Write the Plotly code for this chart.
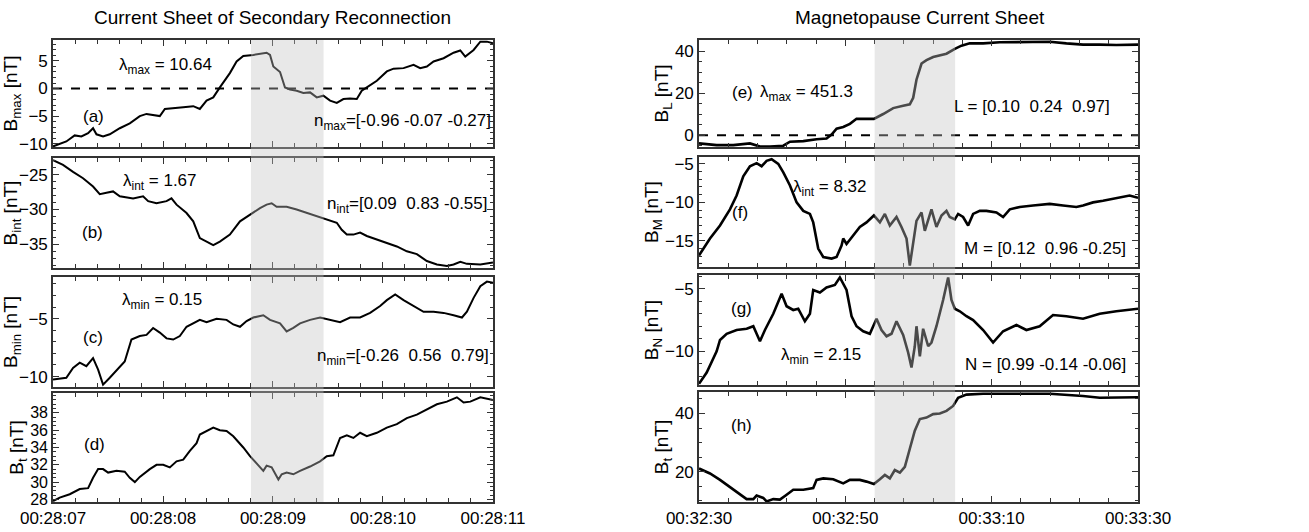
import plotly.graph_objects as go

# ---------------- data: left column (seconds after 00:28:07) ----------------
t_a = [0, .121, .197, .258, .319, .364, .395, .455, .516, .607, .698, .789, .85, .941, .971, 1.017, 1.093, 1.184,
       1.275, 1.335, 1.396, 1.457, 1.517, 1.608, 1.669, 1.73, 1.821, 1.912, 1.942, 1.973, 2.003, 2.064, 2.109, 2.155,
       2.215, 2.276, 2.337, 2.398, 2.458, 2.519, 2.58, 2.64, 2.701, 2.762, 2.807, 2.853, 2.944, 3.035, 3.096, 3.187,
       3.278, 3.338, 3.399, 3.46, 3.551, 3.642, 3.703, 3.748, 3.824, 3.885, 3.945, 4.0]
B_max = [-10.5, -9.6, -8.5, -8.7, -8.1, -7.2, -8.3, -8.7, -8.3, -7.2, -6.3, -5.0, -4.6, -5.0, -5.0, -3.7, -3.6, -3.4,
         -3.2, -3.7, -2.2, -1.6, 0.2, 2.8, 4.9, 5.9, 6.1, 6.3, 6.5, 6.1, 4.0, 3.0, 0.2, -0.2, -0.4, -0.8, -0.7, -1.6,
         -1.3, -2.2, -2.6, -1.9, -1.8, -1.9, -0.4, 0.2, 1.4, 3.1, 3.6, 3.7, 4.3, 3.7, 4.0, 4.9, 5.5, 6.5, 6.9, 5.8,
         7.0, 8.5, 8.5, 8.2]

t_b = [0, .091, .182, .273, .364, .425, .486, .546, .607, .728, .819, .865, .941, 1.032, 1.077, 1.123, 1.214, 1.275,
       1.335, 1.396, 1.457, 1.517, 1.608, 1.7, 1.791, 1.882, 1.942, 1.988, 2.033, 2.124, 2.215, 2.307, 2.398, 2.489,
       2.58, 2.625, 2.671, 2.731, 2.792, 2.853, 2.944, 3.035, 3.126, 3.217, 3.308, 3.399, 3.49, 3.581, 3.642, 3.703,
       3.763, 3.885, 4.0]
B_int = [-22.9, -23.6, -24.6, -25.5, -26.7, -27.8, -27.6, -27.4, -28.1, -28.4, -28.1, -28.8, -29.1, -28.8, -28.4,
         -29.3, -30.5, -31.7, -34.1, -34.6, -35.1, -34.6, -33.6, -31.7, -30.7, -29.8, -29.3, -29.1, -29.6, -29.6,
         -30.0, -30.5, -31.0, -31.4, -31.9, -32.9, -33.6, -33.6, -33.3, -33.8, -34.3, -34.8, -35.3, -36.0, -36.4,
         -37.4, -37.9, -38.1, -37.9, -37.5, -37.8, -37.9, -37.6]

t_c = [0, .121, .182, .243, .303, .364, .41, .455, .516, .577, .652, .713, .789, .85, .91, .971, 1.032, 1.093, 1.153,
       1.214, 1.275, 1.335, 1.396, 1.487, 1.578, 1.639, 1.7, 1.76, 1.821, 1.912, 1.973, 2.064, 2.124, 2.185, 2.246,
       2.337, 2.428, 2.519, 2.61, 2.701, 2.792, 2.883, 2.974, 3.035, 3.111, 3.187, 3.278, 3.369, 3.46, 3.551, 3.642,
       3.718, 3.763, 3.824, 3.885, 3.945, 4.0]
B_min = [-10.26, -10.1, -9.25, -8.8, -9.1, -8.4, -9.4, -10.7, -10.1, -9.5, -8.7, -6.8, -6.5, -6.4, -5.8, -6.2, -6.7,
         -6.8, -6.5, -5.7, -5.4, -5.1, -5.3, -5.0, -5.1, -5.5, -5.7, -5.2, -4.9, -4.7, -5.1, -5.4, -6.1, -5.8, -5.4,
         -5.1, -4.9, -5.1, -5.3, -4.9, -4.9, -4.5, -3.9, -3.4, -2.9, -3.4, -3.9, -4.4, -4.4, -4.5, -4.7, -4.9, -4.4,
         -3.2, -2.2, -1.8, -1.9]

t_d = [0, .061, .152, .243, .319, .364, .41, .455, .501, .577, .652, .698, .744, .789, .88, .941, 1.002, 1.062, 1.123,
       1.184, 1.244, 1.305, 1.335, 1.396, 1.457, 1.517, 1.578, 1.639, 1.669, 1.73, 1.791, 1.851, 1.912, 1.942, 1.988,
       2.049, 2.079, 2.124, 2.185, 2.246, 2.337, 2.428, 2.489, 2.549, 2.61, 2.671, 2.731, 2.792, 2.853, 2.944, 3.035,
       3.126, 3.217, 3.308, 3.399, 3.49, 3.581, 3.672, 3.733, 3.794, 3.885, 4.0]
Bt_left = [27.8, 28.2, 28.6, 29.2, 29.3, 30.5, 31.5, 31.5, 31.1, 31.3, 31.2, 30.5, 30.0, 30.6, 31.5, 32.0, 32.0, 31.7,
           32.4, 32.6, 33.6, 34.5, 35.5, 35.9, 36.3, 36.0, 35.9, 35.3, 34.9, 34.0, 33.0, 32.2, 31.3, 31.9, 31.7, 30.3,
           30.9, 31.1, 30.9, 31.3, 31.8, 32.4, 33.0, 33.1, 35.1, 35.4, 35.1, 35.7, 35.3, 35.7, 36.3, 36.7, 37.4, 37.8,
           38.4, 39.0, 39.3, 39.8, 39.2, 39.3, 39.8, 39.5]

# ---------------- data: right column (seconds after 00:32:30) ----------------
t_e = [0, 2.41, 4.69, 6.96, 8.33, 9.7, 11.52, 12.43, 14.25, 16.07, 17.43, 18.12, 18.8, 19.71, 20.62, 21.53, 22.67,
       23.9, 25.17, 26.54, 27.9, 28.81, 29.27, 29.72, 30.41, 31.09, 32.0, 32.91, 33.82, 34.96, 35.87, 37.0, 38.83,
       41.1, 43.38, 45.65, 47.93, 50.21, 52.48, 54.76, 57.03, 60]
B_L = [-3.9, -4.7, -4.7, -3.9, -5.4, -5.4, -5.0, -3.1, -2.8, -1.9, -1.6, 0.3, 3.1, 3.9, 5.4, 7.8, 7.8, 7.8, 10.1, 12.9,
       14.0, 14.7, 17.8, 26.4, 34.1, 35.7, 37.2, 38.0, 38.8, 41.1, 42.6, 43.7, 43.7, 44.2, 44.2, 44.5, 44.5, 43.7,
       43.1, 43.1, 42.9, 43.1]

t_f = [0, 1.5, 2.87, 4.23, 5.14, 6.05, 6.96, 7.87, 8.56, 9.24, 9.92, 10.83, 11.52, 12.43, 13.34, 14.25, 15.16, 15.61,
       16.29, 16.98, 18.12, 18.8, 19.48, 19.71, 20.16, 21.07, 21.98, 22.89, 23.9, 24.72, 25.4, 26.08, 26.99, 27.67,
       28.36, 28.81, 29.27, 29.72, 30.41, 30.86, 31.77, 32.45, 33.14, 33.82, 34.27, 34.96, 35.41, 36.09, 36.78,
       37.46, 38.37, 39.28, 40.65, 41.56, 42.47, 43.83, 45.65, 47.93, 49.75, 51.57, 52.48, 53.85, 55.21, 57.03,
       58.85, 60]
B_M = [-16.9, -14.7, -13.0, -10.9, -9.1, -6.6, -5.3, -4.9, -5.3, -4.6, -4.4, -5.0, -6.1, -7.8, -10.0, -11.1, -11.5,
       -12.6, -16.0, -17.1, -17.3, -17.1, -15.6, -14.7, -15.4, -14.3, -13.2, -12.6, -11.7, -12.6, -11.5, -13.0,
       -11.9, -13.2, -14.7, -18.2, -15.2, -12.4, -11.3, -13.7, -10.9, -13.2, -11.7, -11.1, -11.9, -12.2, -11.5,
       -11.9, -13.0, -11.5, -11.1, -11.1, -11.3, -11.9, -10.9, -10.6, -10.4, -10.2, -10.4, -10.6, -10.4, -10.0,
       -9.8, -9.4, -9.1, -9.4]

t_g = [0, 1.05, 2.41, 2.87, 3.78, 5.14, 6.51, 7.42, 8.33, 9.01, 10.15, 11.29, 11.97, 12.88, 13.56, 14.47, 15.16,
       15.61, 16.52, 17.43, 18.57, 19.25, 20.16, 20.85, 21.53, 22.44, 23.35, 24.26, 24.94, 25.63, 26.31, 26.99,
       27.9, 28.58, 29.04, 29.49, 29.72, 30.18, 30.63, 31.32, 31.77, 32.45, 33.36, 34.05, 34.5, 34.96, 35.64,
       36.55, 37.46, 38.83, 40.19, 41.56, 43.38, 44.74, 46.56, 48.38, 50.21, 52.48, 54.76, 57.03, 60]
B_N = [-12.6, -11.7, -10.0, -9.1, -8.6, -8.3, -8.2, -8.0, -9.2, -8.3, -7.0, -5.4, -6.4, -6.7, -6.6, -7.6, -7.0, -5.1,
       -5.3, -4.9, -4.7, -4.1, -5.1, -7.2, -8.0, -8.4, -8.6, -7.4, -8.3, -8.8, -8.6, -7.6, -8.7, -10.1, -11.3, -9.6,
       -8.0, -10.4, -8.2, -9.6, -9.3, -8.0, -5.9, -4.1, -5.9, -6.6, -6.8, -7.2, -7.5, -8.3, -9.3, -8.4, -7.9, -8.3,
       -8.0, -7.1, -7.2, -7.4, -7.0, -6.8, -6.6]

t_h = [0, 1.5, 2.87, 4.23, 5.6, 6.51, 7.42, 7.87, 8.78, 9.24, 10.15, 11.06, 11.97, 12.88, 14.25, 15.61, 16.07, 16.98,
       18.34, 19.71, 20.62, 21.98, 22.89, 23.9, 24.72, 25.4, 26.08, 26.76, 27.45, 28.13, 28.81, 29.49, 30.18, 31.09,
       32.0, 32.91, 33.82, 34.73, 35.41, 36.55, 38.83, 43.38, 47.93, 52.48, 54.76, 60]
Bt_right = [21.1, 19.4, 17.2, 14.7, 12.1, 10.6, 10.6, 11.8, 11.0, 9.8, 10.6, 10.4, 12.1, 13.8, 13.8, 14.4, 17.2, 17.7,
            17.4, 16.0, 17.2, 17.2, 16.6, 15.8, 17.4, 18.9, 17.7, 20.6, 19.7, 21.7, 27.9, 34.1, 38.1, 38.6, 39.8, 40.0,
            40.9, 42.6, 45.4, 46.5, 46.8, 46.8, 46.8, 46.0, 45.4, 45.6]

# ticks / intervals
left_tickvals = [0, 1, 2, 3, 4]
left_ticktext = ["00:28:07", "00:28:08", "00:28:09", "00:28:10", "00:28:11"]
right_tickvals = [0, 20, 40, 60]
right_ticktext = ["00:32:30", "00:32:50", "00:33:10", "00:33:30"]
shade_left = [1.8, 2.46]
shade_right = [24.0, 35.0]

FONT = "Liberation Sans, Arial, sans-serif"

panels = [
    # (t, y, ytitle, yrange, ytickvals, minor dtick, column, ydomain)
    (t_a, B_max, "B<sub>max</sub> [nT]", [-10.6, 8.8], [-10, -5, 0, 5], 1, "L", [0.7237, 0.9248]),
    (t_b, B_int, "B<sub>int</sub> [nT]", [-38.4, -22.6], [-35, -30, -25], 1, "L", [0.4962, 0.7030]),
    (t_c, B_min, "B<sub>min</sub> [nT]", [-10.9, -1.4], [-10, -5], 1, "L", [0.2726, 0.4793]),
    (t_d, Bt_left, "B<sub>t</sub> [nT]", [27.7, 40.3], [28, 30, 32, 34, 36, 38], 0.5, "L", [0.0564, 0.2613]),
    (t_e, B_L, "B<sub>L</sub> [nT]", [-5.6, 45.3], [0, 20, 40], 5, "R", [0.7237, 0.9248]),
    (t_f, B_M, "B<sub>M</sub> [nT]", [-18.4, -4.1], [-15, -10, -5], 1, "R", [0.4981, 0.7049]),
    (t_g, B_N, "B<sub>N</sub> [nT]", [-12.7, -3.9], [-10, -5], 1, "R", [0.2763, 0.4831]),
    (t_h, Bt_right, "B<sub>t</sub> [nT]", [9.6, 47.4], [20, 40], 5, "R", [0.0564, 0.2632]),
]

fig = go.Figure()
layout = {}
for i, (t, y, ytitle, yr, ytv, mdt, col, ydom) in enumerate(panels):
    n = i + 1
    xa = "x" if n == 1 else f"x{n}"
    ya = "y" if n == 1 else f"y{n}"
    left = col == "L"
    fig.add_trace(go.Scatter(x=t, y=y, mode="lines", xaxis=xa, yaxis=ya,
                             line=dict(color="black", width=2 if left else 2.6),
                             showlegend=False, hoverinfo="skip"))
    bottom = n in (4, 8)
    layout[f"xaxis{'' if n == 1 else n}"] = dict(
        domain=[0.0405, 0.3766] if left else [0.534, 0.8694],
        anchor=ya, range=[0, 4] if left else [0, 60], automargin=False,
        tickvals=left_tickvals if left else right_tickvals,
        ticktext=left_ticktext if left else right_ticktext,
        showticklabels=bottom, ticks="inside", ticklen=6, tickwidth=1.3, tickcolor="#333",
        minor=dict(ticks="inside", ticklen=4, tickwidth=1.2, tickcolor="#333", dtick=0.2 if left else 4),
        showline=True, linecolor="#333", linewidth=1.6, mirror="allticks",
        showgrid=False, zeroline=False,
        tickfont=dict(family=FONT, size=17, color="black"))
    layout[f"yaxis{'' if n == 1 else n}"] = dict(
        domain=ydom, anchor=xa, range=yr, tickvals=ytv, automargin=False,
        ticks="inside", ticklen=6, tickwidth=1.3, tickcolor="#333",
        minor=dict(ticks="inside", ticklen=3, tickwidth=1.1, tickcolor="#333", dtick=mdt),
        showline=True, linecolor="#333", linewidth=1.6, mirror="allticks",
        showgrid=False, zeroline=False,
        tickfont=dict(family=FONT, size=17 if n != 4 else 16, color="black"),
        title=dict(text=ytitle, font=dict(family=FONT, size=19, color="black"), standoff=0))

fig.update_layout(**layout)

shapes = []
# shaded intervals
shapes.append(dict(type="rect", xref="x", yref="paper", x0=shade_left[0], x1=shade_left[1],
                   y0=0.0564, y1=0.9248, fillcolor="rgb(195,195,195)", opacity=0.38, line_width=0, layer="above"))
shapes.append(dict(type="rect", xref="x5", yref="paper", x0=shade_right[0], x1=shade_right[1],
                   y0=0.0564, y1=0.9248, fillcolor="rgb(195,195,195)", opacity=0.38, line_width=0, layer="above"))
# dashed zero lines
shapes.append(dict(type="line", xref="x domain", yref="y", x0=0, x1=1, y0=0, y1=0,
                   line=dict(color="black", width=2, dash="dash"), layer="below"))
shapes.append(dict(type="line", xref="x5 domain", yref="y5", x0=0, x1=1, y0=0, y1=0,
                   line=dict(color="black", width=2, dash="dash"), layer="below"))

ann_font = dict(family=FONT, size=17, color="black")
annots = [
    ("x", "y", 1.02, 4.0, "λ<sub>max</sub> = 10.64"),
    ("x", "y", 0.37, -5.1, "(a)"),
    ("x", "y", 3.18, -6.0, "n<sub>max</sub>=[-0.96 -0.07 -0.27]"),
    ("x2", "y2", 0.97, -26.0, "λ<sub>int</sub> = 1.67"),
    ("x2", "y2", 0.36, -33.3, "(b)"),
    ("x2", "y2", 3.22, -29.3, "n<sub>int</sub>=[0.09  0.83 -0.55]"),
    ("x3", "y3", 0.99, -3.5, "λ<sub>min</sub> = 0.15"),
    ("x3", "y3", 0.36, -6.6, "(c)"),
    ("x3", "y3", 3.18, -8.3, "n<sub>min</sub>=[-0.26  0.56  0.79]"),
    ("x4", "y4", 0.38, 34.3, "(d)"),
    ("x5", "y5", 5.9, 20.3, "(e)"),
    ("x5", "y5", 14.7, 20.3, "λ<sub>max</sub> = 451.3"),
    ("x5", "y5", 45.5, 13.8, "L = [0.10  0.24  0.97]"),
    ("x6", "y6", 17.9, -8.1, "λ<sub>int</sub> = 8.32"),
    ("x6", "y6", 5.6, -11.3, "(f)"),
    ("x6", "y6", 47.3, -16.0, "M = [0.12  0.96 -0.25]"),
    ("x7", "y7", 5.8, -6.55, "(g)"),
    ("x7", "y7", 16.7, -10.4, "λ<sub>min</sub> = 2.15"),
    ("x7", "y7", 47.3, -11.05, "N = [0.99 -0.14 -0.06]"),
    ("x8", "y8", 5.8, 35.8, "(h)"),
]
annotations = [dict(xref=xr, yref=yr, x=x, y=y, text=txt, showarrow=False, font=ann_font)
               for xr, yr, x, y, txt in annots]
annotations.append(dict(xref="paper", yref="paper", x=0.2078, y=0.968, xanchor="center", yanchor="middle",
                        text="Current Sheet of Secondary Reconnection",
                        showarrow=False, font=dict(family=FONT, size=19, color="black")))
annotations.append(dict(xref="paper", yref="paper", x=0.703, y=0.968, xanchor="center", yanchor="middle",
                        text="Magnetopause Current Sheet",
                        showarrow=False, font=dict(family=FONT, size=19, color="black")))

fig.update_layout(width=1309, height=532, margin=dict(l=0, r=0, t=0, b=0, autoexpand=False),
                  paper_bgcolor="white", plot_bgcolor="white",
                  shapes=shapes, annotations=annotations, font=dict(family=FONT))
fig.write_html("out.html", config={"displayModeBar": False},
               post_script="document.body.style.margin='0';document.body.style.overflow='hidden';")
